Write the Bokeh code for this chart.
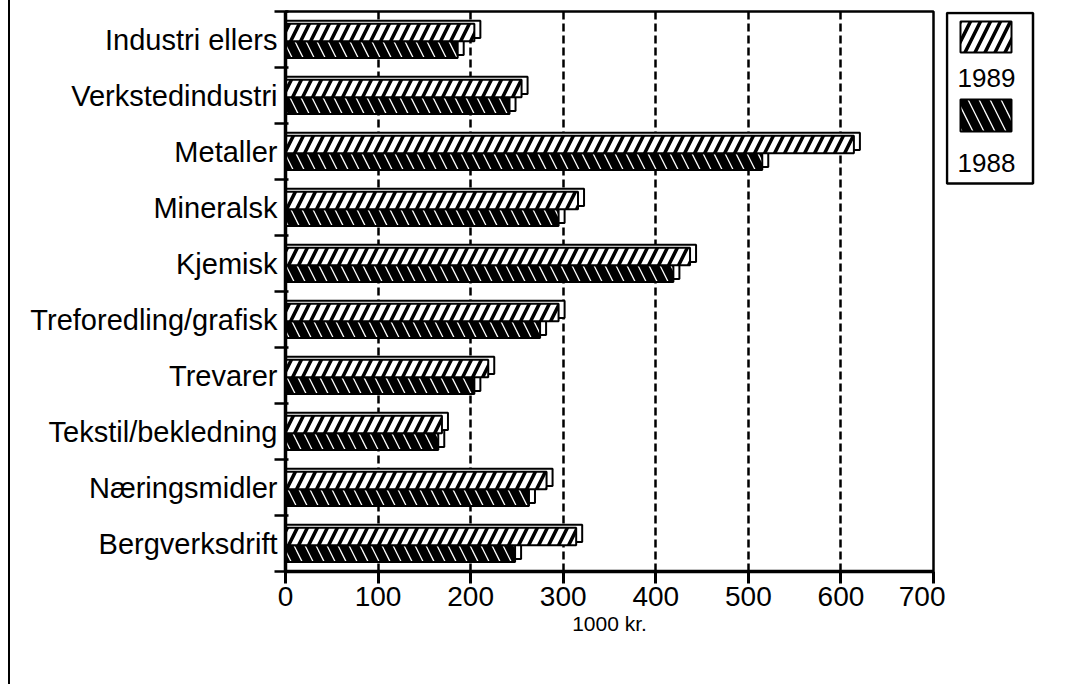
import numpy as np
from bokeh.plotting import figure
from bokeh.models import Range1d, FixedTicker, ColumnDataSource, Div
from bokeh.layouts import row
from bokeh.core.properties import value
from bokeh.embed import file_html
from bokeh.resources import INLINE

# ---- data (bottom to top) ----
categories = ["Bergverksdrift", "Næringsmidler", "Tekstil/bekledning", "Trevarer",
              "Treforedling/grafisk", "Kjemisk", "Mineralsk", "Metaller",
              "Verkstedindustri", "Industri ellers"]
values_1989 = [314, 282, 169, 219, 295, 437, 316, 614, 255, 204]
values_1988 = [248, 263, 165, 204, 275, 419, 295, 515, 242, 186]
x_ticks = [0, 100, 200, 300, 400, 500, 600, 700]
grid_ticks = [100, 200, 300, 400, 500, 600]
series_labels = ["1989", "1988"]
x_label = "1000 kr."

FONT = "Liberation Sans"
DX = 6.5      # 3-D depth in x (data units ~ 6px)
DY = 0.055    # 3-D depth in y (band units ~ 3px)
H = 671
TOP = 11
BOTTOM = 100
FRAME_H = H - TOP - BOTTOM

n = len(categories)
idx = np.arange(n)
src = ColumnDataSource(dict(
    zero=np.zeros(n),
    v89=values_1989, v88=values_1988,
    v89b=np.array(values_1989) + DX, v88b=np.array(values_1988) + DX,
    t89=idx + 0.78, b89=idx + 0.47,
    t88=idx + 0.47, b88=idx + 0.17,
    t89b=idx + 0.78 + DY, b89b=idx + 0.47 + DY,
    t88b=idx + 0.47 + DY, b88b=idx + 0.17 + DY,
))

p = figure(width=930, height=H, x_range=Range1d(0, 700), y_range=Range1d(0, 10),
           output_backend="svg", toolbar_location=None,
           min_border_left=270, min_border_right=12, min_border_top=TOP, min_border_bottom=BOTTOM)
p.background_fill_color = "white"
p.border_fill_color = "white"
p.outline_line_color = "black"
p.outline_line_width = 2.5

style89 = dict(fill_color="white", hatch_pattern="/", hatch_color="black",
               hatch_scale=20, hatch_weight=3.5, line_color="black", line_width=2)
style88 = dict(fill_color="black", hatch_pattern="\\", hatch_color="white",
               hatch_scale=22, hatch_weight=1.3, line_color="black", line_width=2)
back = dict(fill_color="white", line_color="black", line_width=2)

p.quad(left="zero", right="v88b", bottom="b88b", top="t88b", source=src, **back)
p.quad(left="zero", right="v88", bottom="b88", top="t88", source=src, **style88)
p.quad(left="zero", right="v89b", bottom="b89b", top="t89b", source=src, **back)
p.quad(left="zero", right="v89", bottom="b89", top="t89", source=src, **style89)

# x axis
p.xaxis.ticker = FixedTicker(ticks=x_ticks)
p.xaxis.axis_label = x_label
p.xaxis.axis_label_text_font = FONT
p.xaxis.axis_label_text_font_style = "normal"
p.xaxis.axis_label_text_font_size = "21px"
p.xaxis.axis_label_text_color = "black"
p.xaxis.axis_label_standoff = 3
p.xaxis.major_label_text_font = FONT
p.xaxis.major_label_text_font_size = "28px"
p.xaxis.major_label_text_color = "black"
p.xaxis.major_label_standoff = 3
p.xaxis.major_tick_out = 12
p.xaxis.major_tick_in = 0
p.xaxis.major_tick_line_width = 3
p.xaxis.major_tick_line_color = "black"
p.xaxis.minor_tick_line_color = None
p.xaxis.axis_line_width = 3.5
p.xaxis.axis_line_color = "black"

# y axis: labels at centers, ticks at boundaries
p.yaxis.ticker = FixedTicker(ticks=[i + 0.5 for i in range(n)], minor_ticks=list(range(n + 1)))
p.yaxis.major_label_overrides = {i + 0.5: c for i, c in enumerate(categories)}
p.yaxis.major_label_text_font = FONT
p.yaxis.major_label_text_font_size = "29px"
p.yaxis.major_label_text_color = "black"
p.yaxis.major_label_standoff = -3
p.yaxis.major_tick_out = 0
p.yaxis.major_tick_in = 0
p.yaxis.minor_tick_out = 11
p.yaxis.minor_tick_in = 3
p.yaxis.minor_tick_line_width = 2.5
p.yaxis.minor_tick_line_color = "black"
p.yaxis.axis_line_width = 3.5
p.yaxis.axis_line_color = "black"

p.xgrid.ticker = FixedTicker(ticks=grid_ticks)
p.xgrid.grid_line_color = "black"
p.xgrid.grid_line_width = 2.5
p.xgrid.grid_line_dash = "8 4"
p.ygrid.grid_line_color = None

# legend panel (frame aligned with the main frame; coordinates in px from frame top)
lg = figure(width=92, height=H, x_range=Range1d(0, 92), y_range=Range1d(FRAME_H, 0),
            output_backend="svg", toolbar_location=None,
            min_border_left=0, min_border_right=0, min_border_top=TOP, min_border_bottom=BOTTOM)
lg.axis.visible = False
lg.grid.grid_line_color = None
lg.outline_line_color = None
lg.background_fill_color = "white"
lg.border_fill_color = "white"
lg.quad(left=[1.5], right=[87.5], top=[1.5], bottom=[172], fill_color="white",
        line_color="black", line_width=2.5)
lg.quad(left=[15], right=[66], top=[10], bottom=[41], **style89)
lg.quad(left=[15], right=[66], top=[88], bottom=[120], **style88)
lg.text(x=[41, 41], y=[66, 151], text=series_labels, text_align="center",
        text_baseline="middle", text_font=value(FONT), text_font_size="26px",
        text_color="black")

line_div = Div(text='<div style="width:2px;height:687px;background:#000;margin-left:3px;'
                    'position:relative;top:-8px"></div>', width=5, height=H)

layout = row(line_div, p, lg)
open("out.html", "w").write(file_html(layout, INLINE))
